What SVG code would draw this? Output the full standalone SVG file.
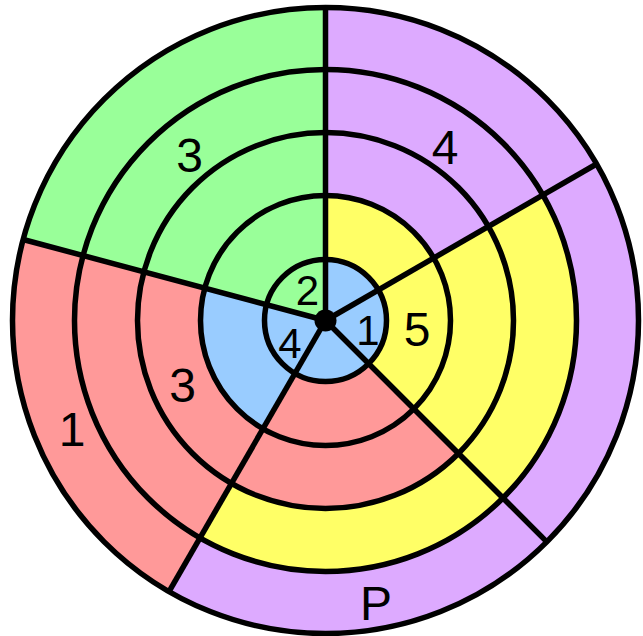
<svg xmlns="http://www.w3.org/2000/svg" width="643" height="636" viewBox="0 0 643 636">
  <style>
    .g{fill:#99FF99}.r{fill:#FF9999}.b{fill:#99CCFF}.y{fill:#FFFF66}.p{fill:#DDAAFF}
    .ring{fill:none;stroke:#000;stroke-width:5.5}
    .spoke{stroke:#000;stroke-width:5.5;stroke-linecap:butt}
    .lbl{font-family:"Liberation Sans",Arial,sans-serif;font-size:48px;fill:#000;text-anchor:middle}
    .lbl.s{font-size:42px}
  </style>
  <defs>
    <path id="wA" d="M0,0 L0,-1 A1,1 0 0 1 0.86603,-0.5 Z"/>
    <path id="wB" d="M0,0 L0.86603,-0.5 A1,1 0 0 1 0.70711,0.70711 Z"/>
    <path id="wC" d="M0,0 L0.70711,0.70711 A1,1 0 0 1 -0.5,0.86603 Z"/>
    <path id="wD" d="M0,0 L-0.5,0.86603 A1,1 0 0 1 -0.96593,-0.25882 Z"/>
    <path id="wE" d="M0,0 L-0.96593,-0.25882 A1,1 0 0 1 0,-1 Z"/>
  </defs>
  <g transform="translate(325.5,320.5)">
    <g id="sectorA">
      <use href="#wA" class="p" transform="scale(313)"/>
      <use href="#wA" class="y" transform="scale(125)"/>
      <use href="#wA" class="b" transform="scale(61)"/>
    </g>
    <g id="sectorB">
      <use href="#wB" class="p" transform="scale(313)"/>
      <use href="#wB" class="y" transform="scale(251)"/>
      <use href="#wB" class="b" transform="scale(61)"/>
    </g>
    <g id="sectorC">
      <use href="#wC" class="p" transform="scale(313)"/>
      <use href="#wC" class="y" transform="scale(251)"/>
      <use href="#wC" class="r" transform="scale(188)"/>
      <use href="#wC" class="b" transform="scale(61)"/>
    </g>
    <g id="sectorD">
      <use href="#wD" class="r" transform="scale(313)"/>
      <use href="#wD" class="b" transform="scale(125)"/>
    </g>
    <g id="sectorE">
      <use href="#wE" class="g" transform="scale(313)"/>
    </g>
  </g>
  <g id="rings">
    <circle class="ring" cx="325.5" cy="320.5" r="61"/>
    <circle class="ring" cx="325.5" cy="320.5" r="125"/>
    <circle class="ring" cx="325.5" cy="320.5" r="188"/>
    <circle class="ring" cx="325.5" cy="320.5" r="251"/>
    <circle class="ring" cx="325.5" cy="320.5" r="313"/>
  </g>
  <g id="connectors">
    <line class="spoke" x1="325.5" y1="320.5" x2="325.5" y2="7.5"/>
    <line class="spoke" x1="325.5" y1="320.5" x2="596.57" y2="164"/>
    <line class="spoke" x1="325.5" y1="320.5" x2="546.83" y2="541.83"/>
    <line class="spoke" x1="325.5" y1="320.5" x2="169" y2="591.57"/>
    <line class="spoke" x1="325.5" y1="320.5" x2="23.16" y2="239.49"/>
    <circle cx="325.5" cy="320.5" r="11" fill="#000"/>
  </g>
  <g id="labels">
    <text class="lbl" x="189.5" y="172">3</text>
    <text class="lbl" x="445" y="164">4</text>
    <text class="lbl" x="182.5" y="402">3</text>
    <text class="lbl" x="72" y="446">1</text>
    <text class="lbl" x="376" y="620">P</text>
    <text class="lbl" x="417" y="346">5</text>
    <text class="lbl s" x="307.5" y="305">2</text>
    <text class="lbl s" x="368" y="345">1</text>
    <text class="lbl s" x="290" y="358">4</text>
  </g>
</svg>
